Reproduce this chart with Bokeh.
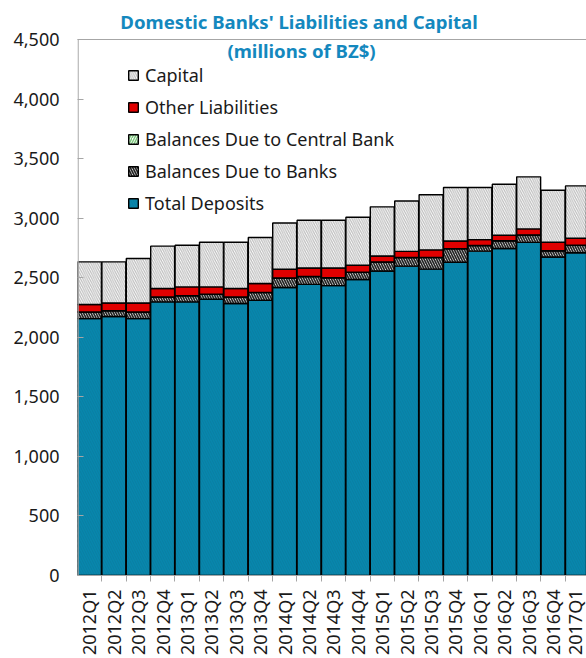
import numpy as np
from bokeh.plotting import figure
from bokeh.models import (ColumnDataSource, FixedTicker, NumeralTickFormatter,
                          Label, Span, Legend, LegendItem)
from bokeh.embed import file_html
from bokeh.resources import INLINE

quarters = ["2012Q1", "2012Q2", "2012Q3", "2012Q4", "2013Q1", "2013Q2", "2013Q3",
            "2013Q4", "2014Q1", "2014Q2", "2014Q3", "2014Q4", "2015Q1", "2015Q2",
            "2015Q3", "2015Q4", "2016Q1", "2016Q2", "2016Q3", "2016Q4", "2017Q1"]

total_deposits = [2157, 2174, 2157, 2297, 2297, 2319, 2283, 2311, 2418, 2444, 2434,
                  2485, 2557, 2597, 2572, 2630, 2723, 2745, 2797, 2674, 2710]
due_to_banks = [55, 49, 55, 41, 52, 41, 55, 65, 79, 65, 65,
                60, 75, 72, 98, 113, 47, 64, 62, 51, 62]
due_to_central_bank = [1, 1, 1, 1, 1, 1, 1, 1, 1, 1, 1,
                       1, 1, 1, 1, 1, 1, 1, 1, 1, 1]
other_liabilities = [62, 64, 75, 70, 73, 62, 70, 74, 73, 72, 82,
                     59, 49, 51, 63, 64, 49, 47, 50, 72, 59]
capital = [358, 345, 373, 356, 350, 375, 389, 387, 389, 401, 401,
           403, 413, 423, 463, 450, 438, 428, 437, 437, 439]

y_ticks = [0, 500, 1000, 1500, 2000, 2500, 3000, 3500, 4000, 4500]
y_max = 4500

series = [
    ("Total Deposits", total_deposits),
    ("Balances Due to Banks", due_to_banks),
    ("Balances Due to Central Bank", due_to_central_bank),
    ("Other Liabilities", other_liabilities),
    ("Capital", capital),
]
styles = {
    "Total Deposits": dict(fill_color="#0787AD", hatch_pattern="\\", hatch_color="#0A7EA2",
                           hatch_scale=5, hatch_weight=1),
    "Balances Due to Banks": dict(fill_color="white", hatch_pattern="\\", hatch_color="#262626",
                                  hatch_scale=5, hatch_weight=1.7),
    "Balances Due to Central Bank": dict(fill_color="white", hatch_pattern="/", hatch_color="#7FC97F",
                                         hatch_scale=5, hatch_weight=1.5),
    "Other Liabilities": dict(fill_color="#E00000"),
    "Capital": dict(fill_color="white", hatch_pattern="\\", hatch_color="#BDBDBD",
                    hatch_scale=4.5, hatch_weight=1.2),
}

x = np.arange(len(quarters))
FONT = "Noto Sans"
GREY = "#A6A6A6"

# frame: window x 77..586, y 0..575 ; value 4500 sits at y=39
top_val = y_max + 39 * y_max / 536.0
x0, x1 = -0.49, 20.37

p = figure(width=586, height=658, output_backend="svg", toolbar_location=None,
           x_range=(x0, x1), y_range=(0, top_val),
           min_border_left=77, min_border_right=0, min_border_top=0, min_border_bottom=83)
p.outline_line_color = None
p.xgrid.visible = False
p.ygrid.visible = False

bottom = np.zeros(len(quarters))
renderers = {}
for name, vals in series:
    vals = np.array(vals, dtype=float)
    top = bottom + vals
    src = ColumnDataSource(dict(x=x, bottom=bottom.copy(), top=top))
    r = p.vbar(x="x", bottom="bottom", top="top", width=0.98, source=src,
               line_color="black", line_width=1.4, **styles[name])
    renderers[name] = r
    bottom = top

items = [LegendItem(label=n, renderers=[renderers[n]]) for n in
         ["Capital", "Other Liabilities", "Balances Due to Central Bank",
          "Balances Due to Banks", "Total Deposits"]]
legend = Legend(items=items, location=(50, 360), margin=0, padding=0,
                glyph_width=12, glyph_height=12, label_height=20, spacing=8,
                label_standoff=6, label_text_font=FONT, label_text_font_size="18px",
                label_text_color="#1a1a1a", border_line_color=None, background_fill_alpha=0)
p.add_layout(legend, "center")

# top frame line and left axis line (ending at 4500)
p.add_layout(Span(location=y_max, dimension="width", line_color=GREY, line_width=1.2))
p.segment(x0=[x0 + 0.025], y0=[0], x1=[x0 + 0.025], y1=[y_max], line_color=GREY, line_width=1.2)

# y axis
p.yaxis.ticker = FixedTicker(ticks=y_ticks)
p.yaxis.formatter = NumeralTickFormatter(format="0,0")
p.yaxis.major_tick_in = 6
p.yaxis.major_tick_out = 0
p.yaxis.minor_tick_line_color = None
p.yaxis.axis_line_color = None
p.yaxis.major_tick_line_color = GREY
p.yaxis.major_label_standoff = 18
p.yaxis.major_label_text_font = FONT
p.yaxis.major_label_text_font_size = "18px"
p.yaxis.major_label_text_color = "#1a1a1a"

# x axis
p.xaxis.ticker = FixedTicker(ticks=list(x), minor_ticks=list(x[:-1] + 0.5) + [-0.5])
p.xaxis.major_label_overrides = {int(i): q for i, q in zip(x, quarters)}
p.xaxis.major_label_orientation = np.pi / 2
p.xaxis.major_tick_in = 0
p.xaxis.major_tick_out = 0
p.xaxis.minor_tick_in = 0
p.xaxis.minor_tick_out = 6
p.xaxis.minor_tick_line_color = GREY
p.xaxis.axis_line_color = GREY
p.xaxis.axis_line_width = 1.2
p.xaxis.major_label_standoff = 8
p.xaxis.major_label_text_font = FONT
p.xaxis.major_label_text_font_size = "18px"
p.xaxis.major_label_text_color = "#1a1a1a"

TITLE_COLOR = "#1488BE"
p.add_layout(Label(x=8.69, y=4647, text="Domestic Banks'  Liabilities and Capital",
                   text_align="center", text_baseline="middle", text_font=FONT,
                   text_font_size="18.6px", text_font_style="bold", text_color=TITLE_COLOR))
p.add_layout(Label(x=8.69, y=4408, text="(millions of BZ$)",
                   text_align="center", text_baseline="middle", text_font=FONT,
                   text_font_size="18.6px", text_font_style="bold", text_color=TITLE_COLOR))

open("out.html", "w").write(file_html(p, INLINE))
